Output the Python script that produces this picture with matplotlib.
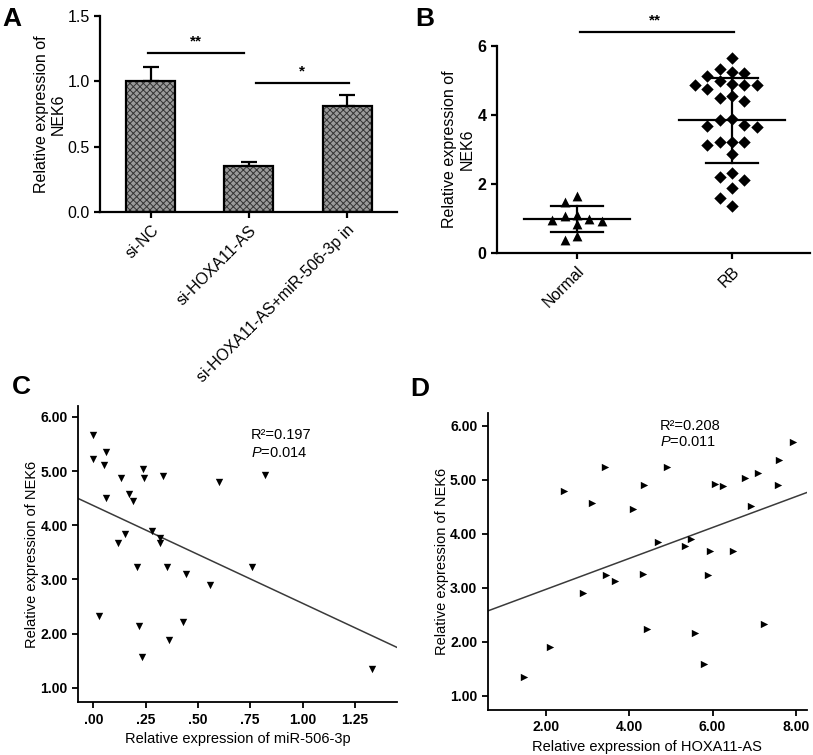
import numpy as np
import matplotlib
matplotlib.use("Agg")
import matplotlib.pyplot as plt
from matplotlib.ticker import FuncFormatter

plt.rcParams['font.family'] = ['Liberation Sans', 'DejaVu Sans']
plt.rcParams['mathtext.fontset'] = 'custom'
plt.rcParams['mathtext.rm'] = 'Liberation Sans'
plt.rcParams['mathtext.it'] = 'Liberation Sans:italic'
plt.rcParams['hatch.linewidth'] = 0.7

# A: bar chart
groups_a = ["si-NC", "si-HOXA11-AS", "si-HOXA11-AS+miR-506-3p in"]
mean_a = [1.00, 0.35, 0.81]
err_a = [0.11, 0.035, 0.085]

# B: scatter with mean +/- SD
groups_b = ["Normal", "RB"]
normal_b = [1.11, 1.00, 0.92, 1.49, 0.84, 1.64, 0.96, 1.08, 0.39, 0.50]
rb_b = [5.65, 5.21, 5.34, 5.24, 5.12, 5.00, 4.88, 4.88, 4.88, 4.90,
        4.75, 4.49, 4.42, 4.55, 3.88, 3.72, 3.67, 3.66, 3.85, 3.23,
        3.12, 3.23, 3.23, 2.88, 2.13, 2.31, 2.21, 1.88, 1.59, 1.35]

# C: NEK6 vs miR-506-3p
mir_c = [0.00, 0.00, 0.061, 0.051, 0.061, 0.131, 0.236, 0.242, 0.331, 0.170,
         0.191, 0.599, 0.821, 0.282, 0.320, 0.320, 0.150, 0.120, 0.210, 0.351,
         0.441, 0.559, 0.760, 0.029, 0.220, 0.429, 0.360, 0.231, 1.330]
nek6_c = [5.67, 5.22, 5.35, 5.12, 4.51, 4.87, 5.03, 4.88, 4.90, 4.57,
          4.44, 4.79, 4.92, 3.89, 3.77, 3.68, 3.84, 3.68, 3.23, 3.23,
          3.11, 2.89, 3.23, 2.33, 2.15, 2.22, 1.89, 1.57, 1.34]
stats_c = ["R²=0.197", "$\\it{P}$=0.014"]

# D: NEK6 vs HOXA11-AS
hoxa_d = [1.48, 2.10, 2.43, 2.89, 3.11, 3.42, 3.44, 3.65, 4.08, 4.35,
          4.33, 4.42, 4.68, 4.90, 5.33, 5.47, 5.57, 5.79, 5.93, 5.90,
          6.07, 6.26, 6.48, 6.77, 6.92, 7.08, 7.24, 7.59, 7.58, 7.93]
nek6_d = [1.35, 1.90, 4.79, 2.90, 4.57, 5.24, 3.24, 3.13, 4.45, 4.91,
          3.25, 2.23, 3.85, 5.23, 3.77, 3.90, 2.16, 1.59, 3.69, 3.23,
          4.93, 4.88, 3.69, 5.03, 4.52, 5.13, 2.33, 5.36, 4.90, 5.69]
stats_d = ["R²=0.208", "$\\it{P}$=0.011"]

W, H = 813, 755


def rect(l, t, r, b):
    return [l / W, 1 - b / H, (r - l) / W, (b - t) / H]


def swarm(vals, dy, step):
    # greedy column placement, highest values first
    vals = np.asarray(vals)
    cols = {}
    off = np.zeros(len(vals))
    for i in np.argsort(vals)[::-1]:
        for c in [0, -1, 1, -2, 2, -3, 3, -4, 4]:
            if all(abs(vals[i] - v) >= dy for v in cols.get(c, [])):
                cols.setdefault(c, []).append(vals[i])
                off[i] = c * step
                break
    return off


def style(ax, lw):
    for s in ["top", "right"]:
        ax.spines[s].set_visible(False)
    for s in ["left", "bottom"]:
        ax.spines[s].set_linewidth(lw)
    ax.tick_params(width=lw, length=4, direction="out")


fig = plt.figure(figsize=(W / 100, H / 100), dpi=100)

# ---------------- A ----------------
ax = fig.add_axes(rect(100, 16, 397, 212))
style(ax, 1.6)
x = np.arange(len(groups_a))
ax.bar(x, mean_a, width=0.5, color="#9a9a9a", edgecolor="#333333",
       hatch="xxxxx", linewidth=0, zorder=2)
ax.bar(x, mean_a, width=0.5, fill=False, edgecolor="black", linewidth=1.6, zorder=3)
ax.errorbar(x, mean_a, yerr=[np.zeros(len(x)), err_a], fmt="none",
            ecolor="black", elinewidth=1.6, capsize=6, capthick=1.6, zorder=1)
ax.set_xlim(-0.52, 2.51)
ax.set_ylim(0, 1.5)
ax.set_yticks([0, 0.5, 1.0, 1.5])
ax.set_yticklabels(["0.0", "0.5", "1.0", "1.5"], fontsize=11.5)
ax.set_xticks(x)
ax.set_xticklabels(groups_a, rotation=45, ha="right", rotation_mode="anchor", fontsize=11.5)
ax.set_ylabel("Relative expression of\nNEK6", fontsize=11.5, labelpad=1)
ax.plot([-0.03, 0.95], [1.22, 1.22], color="black", lw=1.6, clip_on=False)
ax.text(0.46, 1.25, "**", ha="center", va="bottom", fontsize=11, fontweight="bold")
ax.plot([1.07, 2.02], [0.99, 0.99], color="black", lw=1.6, clip_on=False)
ax.text(1.54, 1.02, "*", ha="center", va="bottom", fontsize=11, fontweight="bold")
fig.text(2 / W, 1 - 26 / H, "A", fontsize=19, fontweight="bold")

# ---------------- B ----------------
ax = fig.add_axes(rect(497, 46, 810, 253))
style(ax, 1.6)
ax.scatter(0 + swarm(normal_b, 0.25, 0.08), normal_b, marker="^", s=50,
           color="black", zorder=3, linewidths=0)
ax.scatter(1 + swarm(rb_b, 0.33, 0.08), rb_b, marker="D", s=40,
           color="black", zorder=3, linewidths=0)
for i, vals in enumerate([normal_b, rb_b]):
    m, sd = np.mean(vals), np.std(vals, ddof=1)
    ax.plot([i - 0.34, i + 0.34], [m, m], color="black", lw=1.6, zorder=2)
    ax.plot([i - 0.17, i + 0.17], [m + sd, m + sd], color="black", lw=1.6, zorder=2)
    ax.plot([i - 0.17, i + 0.17], [m - sd, m - sd], color="black", lw=1.6, zorder=2)
    ax.plot([i, i], [m - sd, m + sd], color="black", lw=1.6, zorder=2)
ax.set_xlim(-0.516, 1.503)
ax.set_ylim(0, 6)
ax.set_yticks([0, 2, 4, 6])
ax.set_yticklabels(["0", "2", "4", "6"], fontsize=11.5, fontweight="bold")
ax.set_xticks([0, 1])
ax.set_xticklabels(groups_b, rotation=45, ha="right", rotation_mode="anchor", fontsize=11.5)
ax.set_ylabel("Relative expression of\nNEK6", fontsize=11.5, labelpad=2)
ax.plot([0.02, 1.01], [6.4, 6.4], color="black", lw=1.6, clip_on=False)
ax.text(0.5, 6.55, "**", ha="center", va="bottom", fontsize=11, fontweight="bold")
fig.text(415 / W, 1 - 26 / H, "B", fontsize=19, fontweight="bold")


def dec_fmt(v, pos):
    s = f"{v:.2f}"
    return s[1:] if s.startswith("0") else s


# ---------------- C ----------------
ax = fig.add_axes(rect(78, 406, 396.7, 702.3))
style(ax, 1.3)
ax.scatter(mir_c, nek6_c, marker="v", s=28, color="black", linewidths=0, zorder=3)
xlim = (-0.073, 1.45)
k, b = np.polyfit(mir_c, nek6_c, 1)
ax.plot(xlim, [k * xlim[0] + b, k * xlim[1] + b], color="#3a3a3a", lw=1.1)
ax.set_xlim(xlim)
ax.set_ylim(0.735, 6.2)
ax.set_xticks([0, 0.25, 0.5, 0.75, 1.0, 1.25])
ax.xaxis.set_major_formatter(FuncFormatter(dec_fmt))
ax.set_yticks([1, 2, 3, 4, 5, 6])
ax.yaxis.set_major_formatter(FuncFormatter(lambda v, p: f"{v:.2f}"))
for lab in ax.get_xticklabels() + ax.get_yticklabels():
    lab.set_fontweight("bold")
    lab.set_fontsize(10)
ax.set_xlabel("Relative expression of miR-506-3p", fontsize=10.5, labelpad=4)
ax.set_ylabel("Relative expression of NEK6", fontsize=10.5, labelpad=1)
ax.text(0.752, 5.66, stats_c[0], fontsize=10.5, va="center")
ax.text(0.752, 5.33, stats_c[1], fontsize=10.5, va="center")
fig.text(12 / W, 1 - 394 / H, "C", fontsize=19, fontweight="bold")

# ---------------- D ----------------
ax = fig.add_axes(rect(487.7, 413.3, 806.7, 710))
style(ax, 1.3)
ax.scatter(hoxa_d, nek6_d, marker=">", s=28, color="black", linewidths=0, zorder=3)
xlim = (0.60, 8.26)
k, b = np.polyfit(hoxa_d, nek6_d, 1)
ax.plot(xlim, [k * xlim[0] + b, k * xlim[1] + b], color="#3a3a3a", lw=1.1)
ax.set_xlim(xlim)
ax.set_ylim(0.74, 6.23)
ax.set_xticks([2, 4, 6, 8])
ax.xaxis.set_major_formatter(FuncFormatter(lambda v, p: f"{v:.2f}"))
ax.set_yticks([1, 2, 3, 4, 5, 6])
ax.yaxis.set_major_formatter(FuncFormatter(lambda v, p: f"{v:.2f}"))
for lab in ax.get_xticklabels() + ax.get_yticklabels():
    lab.set_fontweight("bold")
    lab.set_fontsize(10)
ax.set_xlabel("Relative expression of HOXA11-AS", fontsize=10.5, labelpad=4)
ax.set_ylabel("Relative expression of NEK6", fontsize=10.5, labelpad=1)
ax.text(4.74, 5.99, stats_d[0], fontsize=10.5, va="center")
ax.text(4.74, 5.69, stats_d[1], fontsize=10.5, va="center")
fig.text(410 / W, 1 - 396 / H, "D", fontsize=19, fontweight="bold")

fig.savefig("out.png", dpi=100)
